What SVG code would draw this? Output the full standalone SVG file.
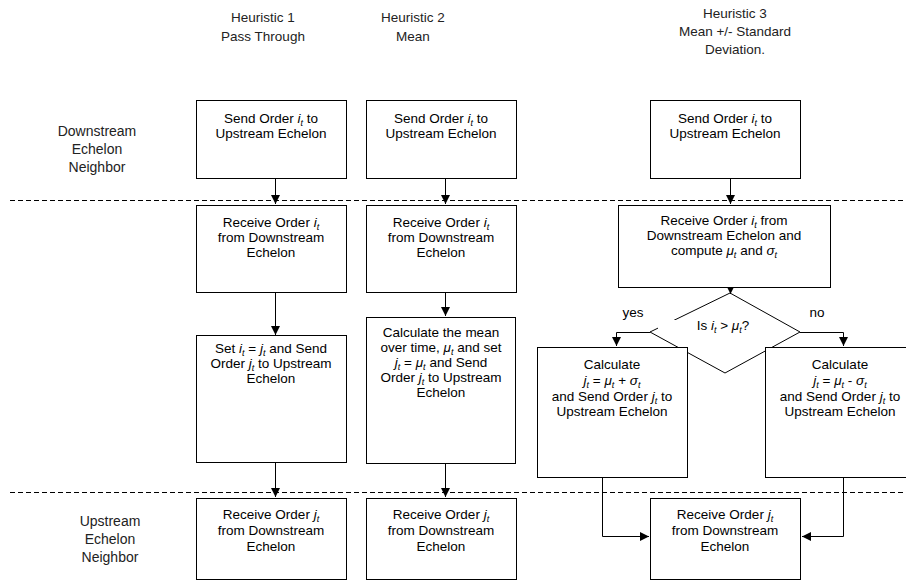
<svg xmlns="http://www.w3.org/2000/svg" width="906" height="583" viewBox="0 0 906 583">
<style>
text{font-family:"Liberation Sans",Arial,sans-serif;font-size:13.5px;fill:#000;text-anchor:middle}
.h{font-size:13.5px;fill:#222}
.lb{font-size:14px;fill:#222}
.box{fill:#fff;stroke:#000;stroke-width:1}
.ln{fill:none;stroke:#000;stroke-width:1}
.dash{fill:none;stroke:#000;stroke-width:1;stroke-dasharray:5 3}
.v{font-style:italic}
.s{font-size:9px;font-style:italic}
</style>
<defs>
<marker id="ah" viewBox="0 0 10 10" refX="10" refY="5" markerWidth="9" markerHeight="9" markerUnits="userSpaceOnUse" orient="auto">
<path d="M0,0 L10,5 L0,10 z" fill="#000"/>
</marker>
</defs>
<rect width="906" height="583" fill="#fff"/>
<g id="headers">
<text class="h" x="263" y="22">Heuristic 1</text>
<text class="h" x="263" y="41">Pass Through</text>
<text class="h" x="413" y="22">Heuristic 2</text>
<text class="h" x="413" y="41">Mean</text>
<text class="h" x="735" y="18">Heuristic 3</text>
<text class="h" x="735" y="36">Mean +/- Standard</text>
<text class="h" x="735" y="54">Deviation.</text>
</g>
<g id="lane-labels">
<text class="lb" x="97" y="136">Downstream</text>
<text class="lb" x="97" y="154">Echelon</text>
<text class="lb" x="97" y="172">Neighbor</text>
<text class="lb" x="110" y="526">Upstream</text>
<text class="lb" x="110" y="544">Echelon</text>
<text class="lb" x="110" y="562">Neighbor</text>
</g>
<g id="lanes">
<line class="dash" x1="10" y1="200.5" x2="906" y2="200.5"/>
<line class="dash" x1="10" y1="492.5" x2="906" y2="492.5"/>
</g>
<g id="decision">
<polygon class="box" points="730,293 800,332 725,373 650,332"/>
<rect x="658" y="320" width="100" height="13" fill="#fff"/>
<text x="723" y="330">Is <tspan class="v">i</tspan><tspan class="s" dy="2.5">t</tspan><tspan dy="-2.5"> &gt; </tspan><tspan class="v">μ</tspan><tspan class="s" dy="2.5">t</tspan><tspan dy="-2.5">?</tspan></text>
<text x="633" y="317">yes</text>
<text x="817" y="317">no</text>
</g>
<g id="connectors">
<path class="ln" d="M275.5,178 V204" marker-end="url(#ah)"/>
<path class="ln" d="M275.5,292 V335" marker-end="url(#ah)"/>
<path class="ln" d="M275.5,462 V497" marker-end="url(#ah)"/>
<path class="ln" d="M445.5,178 V204" marker-end="url(#ah)"/>
<path class="ln" d="M445.5,292 V316" marker-end="url(#ah)"/>
<path class="ln" d="M445.5,463 V497" marker-end="url(#ah)"/>
<path class="ln" d="M730.5,178 V204" marker-end="url(#ah)"/>
<path class="ln" d="M730.5,287 V294" marker-end="url(#ah)"/>
<path class="ln" d="M650,332.5 H616.5 V346" marker-end="url(#ah)"/>
<path class="ln" d="M800,332.5 H843.5 V346" marker-end="url(#ah)"/>
<path class="ln" d="M602.5,477 V536.5 H649" marker-end="url(#ah)"/>
<path class="ln" d="M843.5,477 V536.5 H802" marker-end="url(#ah)"/>
</g>
<g id="h1-send">
<rect class="box" x="196.5" y="100.5" width="150" height="78"/>
<text x="271" y="123">Send Order <tspan class="v">i</tspan><tspan class="s" dy="2.5">t</tspan><tspan dy="-2.5"> to</tspan></text>
<text x="271" y="138">Upstream Echelon</text>
</g>
<g id="h2-send">
<rect class="box" x="366.5" y="100.5" width="150" height="78"/>
<text x="441" y="123">Send Order <tspan class="v">i</tspan><tspan class="s" dy="2.5">t</tspan><tspan dy="-2.5"> to</tspan></text>
<text x="441" y="138">Upstream Echelon</text>
</g>
<g id="h3-send">
<rect class="box" x="650.5" y="100.5" width="150" height="78"/>
<text x="725" y="123">Send Order <tspan class="v">i</tspan><tspan class="s" dy="2.5">t</tspan><tspan dy="-2.5"> to</tspan></text>
<text x="725" y="138">Upstream Echelon</text>
</g>
<g id="h1-receive">
<rect class="box" x="196.5" y="205.5" width="150" height="87"/>
<text x="271" y="227">Receive Order <tspan class="v">i</tspan><tspan class="s" dy="2.5">t</tspan></text>
<text x="271" y="242">from Downstream</text>
<text x="271" y="257">Echelon</text>
</g>
<g id="h2-receive">
<rect class="box" x="366.5" y="205.5" width="150" height="87"/>
<text x="441" y="227">Receive Order <tspan class="v">i</tspan><tspan class="s" dy="2.5">t</tspan></text>
<text x="441" y="242">from Downstream</text>
<text x="441" y="257">Echelon</text>
</g>
<g id="h3-receive">
<rect class="box" x="618.5" y="205.5" width="212" height="82"/>
<text x="724" y="225">Receive Order <tspan class="v">i</tspan><tspan class="s" dy="2.5">t</tspan><tspan dy="-2.5"> from</tspan></text>
<text x="724" y="240">Downstream Echelon and</text>
<text x="724" y="255">compute <tspan class="v">μ</tspan><tspan class="s" dy="2.5">t</tspan><tspan dy="-2.5"> and </tspan><tspan class="v">σ</tspan><tspan class="s" dy="2.5">t</tspan></text>
</g>
<g id="h1-set">
<rect class="box" x="196.5" y="335.5" width="150" height="127"/>
<text x="271" y="353">Set <tspan class="v">i</tspan><tspan class="s" dy="2.5">t</tspan><tspan dy="-2.5"> = </tspan><tspan class="v">j</tspan><tspan class="s" dy="2.5">t</tspan><tspan dy="-2.5"> and Send</tspan></text>
<text x="271" y="368">Order <tspan class="v">j</tspan><tspan class="s" dy="2.5">t</tspan><tspan dy="-2.5"> to Upstream</tspan></text>
<text x="271" y="383">Echelon</text>
</g>
<g id="h2-calc">
<rect class="box" x="366.5" y="317.5" width="149" height="146"/>
<text x="441" y="337">Calculate the mean</text>
<text x="441" y="352">over time, <tspan class="v">μ</tspan><tspan class="s" dy="2.5">t</tspan><tspan dy="-2.5"> and set</tspan></text>
<text x="441" y="367"><tspan class="v">j</tspan><tspan class="s" dy="2.5">t</tspan><tspan dy="-2.5"> = </tspan><tspan class="v">μ</tspan><tspan class="s" dy="2.5">t</tspan><tspan dy="-2.5"> and Send</tspan></text>
<text x="441" y="382">Order <tspan class="v">j</tspan><tspan class="s" dy="2.5">t</tspan><tspan dy="-2.5"> to Upstream</tspan></text>
<text x="441" y="397">Echelon</text>
</g>
<g id="h3-calc-plus">
<rect class="box" x="537.5" y="347.5" width="150" height="130"/>
<text x="612" y="369">Calculate</text>
<text x="612" y="385"><tspan class="v">j</tspan><tspan class="s" dy="2.5">t</tspan><tspan dy="-2.5"> = </tspan><tspan class="v">μ</tspan><tspan class="s" dy="2.5">t</tspan><tspan dy="-2.5"> + </tspan><tspan class="v">σ</tspan><tspan class="s" dy="2.5">t</tspan></text>
<text x="612" y="401">and Send Order <tspan class="v">j</tspan><tspan class="s" dy="2.5">t</tspan><tspan dy="-2.5"> to</tspan></text>
<text x="612" y="416">Upstream Echelon</text>
</g>
<g id="h3-calc-minus">
<rect class="box" x="765.5" y="347.5" width="150" height="130"/>
<text x="840" y="369">Calculate</text>
<text x="840" y="385"><tspan class="v">j</tspan><tspan class="s" dy="2.5">t</tspan><tspan dy="-2.5"> = </tspan><tspan class="v">μ</tspan><tspan class="s" dy="2.5">t</tspan><tspan dy="-2.5"> - </tspan><tspan class="v">σ</tspan><tspan class="s" dy="2.5">t</tspan></text>
<text x="840" y="401">and Send Order <tspan class="v">j</tspan><tspan class="s" dy="2.5">t</tspan><tspan dy="-2.5"> to</tspan></text>
<text x="840" y="416">Upstream Echelon</text>
</g>
<g id="h1-upstream">
<rect class="box" x="196.5" y="498.5" width="150" height="81"/>
<text x="271" y="519">Receive Order <tspan class="v">j</tspan><tspan class="s" dy="2.5">t</tspan></text>
<text x="271" y="535">from Downstream</text>
<text x="271" y="551">Echelon</text>
</g>
<g id="h2-upstream">
<rect class="box" x="366.5" y="498.5" width="150" height="81"/>
<text x="441" y="519">Receive Order <tspan class="v">j</tspan><tspan class="s" dy="2.5">t</tspan></text>
<text x="441" y="535">from Downstream</text>
<text x="441" y="551">Echelon</text>
</g>
<g id="h3-upstream">
<rect class="box" x="650.5" y="498.5" width="150" height="81"/>
<text x="725" y="519">Receive Order <tspan class="v">j</tspan><tspan class="s" dy="2.5">t</tspan></text>
<text x="725" y="535">from Downstream</text>
<text x="725" y="551">Echelon</text>
</g>
</svg>
